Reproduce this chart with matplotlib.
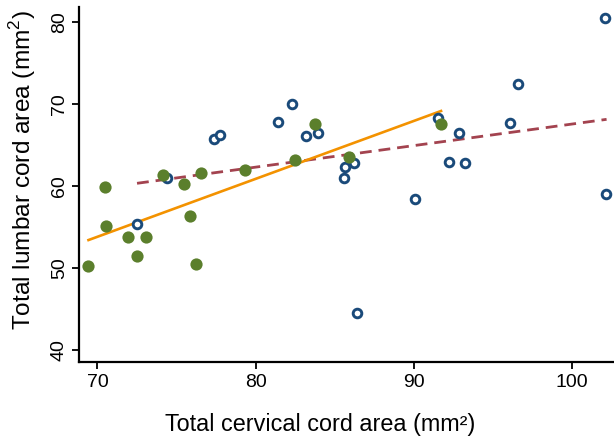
import matplotlib
matplotlib.use("Agg")
import matplotlib.pyplot as plt

plt.rcParams['font.family'] = ['Liberation Sans', 'DejaVu Sans']
plt.rcParams['mathtext.fontset'] = 'custom'
plt.rcParams['mathtext.rm'] = 'Liberation Sans'
plt.rcParams['lines.scale_dashes'] = False

# Data
green_x = [69.39, 70.49, 70.55, 71.92, 72.53, 73.04, 74.13, 75.46, 75.82, 76.20,
           76.56, 79.32, 82.51, 83.75, 85.93, 91.75]
green_y = [50.24, 59.92, 55.12, 53.74, 51.46, 53.82, 61.34, 60.28, 56.38, 50.52,
           61.62, 62.00, 63.17, 67.56, 63.57, 67.56]

blue_x = [72.50, 74.39, 77.34, 77.74, 81.41, 82.32, 83.19, 83.97, 85.57, 85.63,
          86.25, 86.42, 90.11, 91.52, 92.24, 92.85, 93.27, 96.10, 96.60, 102.10, 102.18]
blue_y = [55.40, 61.00, 65.69, 66.26, 67.77, 70.04, 66.14, 66.50, 60.94, 62.35,
          62.77, 44.55, 58.38, 68.25, 62.89, 66.50, 62.77, 67.68, 72.40, 80.49, 58.99]

green_fit_x = [69.43, 91.73]
green_fit_y = [53.41, 69.15]
blue_fit_x = [72.50, 102.20]
blue_fit_y = [60.33, 68.13]

x_ticks = [70, 80, 90, 100]
y_ticks = [40, 50, 60, 70, 80]

W, H = 614, 443
fig = plt.figure(figsize=(W / 100, H / 100), dpi=100)
left, right, top, bottom = 79, 614, 7, 361.5
ax = fig.add_axes([left / W, (H - bottom) / H, (right - left) / W, (bottom - top) / H])

ax.plot(blue_fit_x, blue_fit_y, color='#a3434f', lw=2.0, dashes=(8.5, 5.0), zorder=2)
ax.plot(green_fit_x, green_fit_y, color='#f39200', lw=1.9, zorder=2)
ax.plot(blue_x, blue_y, ls='none', marker='o', ms=6.2, mfc='white', mec='#1a4a7a',
        mew=2.1, zorder=3)
ax.plot(green_x, green_y, ls='none', marker='o', ms=8.8, mfc='#5b7f2c', mec='#5b7f2c',
        mew=0, zorder=4)

ax.set_xlim(68.83, 102.67)
ax.set_ylim(38.6, 81.83)
ax.set_xticks(x_ticks)
ax.set_yticks(y_ticks)

for s in ['top', 'right']:
    ax.spines[s].set_visible(False)
for s in ['left', 'bottom']:
    ax.spines[s].set_linewidth(1.6)
ax.tick_params(axis='both', direction='out', length=5, width=1.3, labelsize=14,
               color='black')
ax.tick_params(axis='x', pad=4)
ax.tick_params(axis='y', pad=3)
for lab in ax.get_yticklabels():
    lab.set_rotation(90)
    lab.set_va('center')

fig.text(165 / W, 1 - 425 / H, 'Total cervical cord area (mm²)', fontsize=16.8,
         ha='left', va='center')
fig.text(23 / W, 1 - 170 / H, 'Total lumbar cord area (mm$^2$)', fontsize=17.6,
         rotation=90, ha='center', va='center')

fig.savefig('out.png', dpi=100)
